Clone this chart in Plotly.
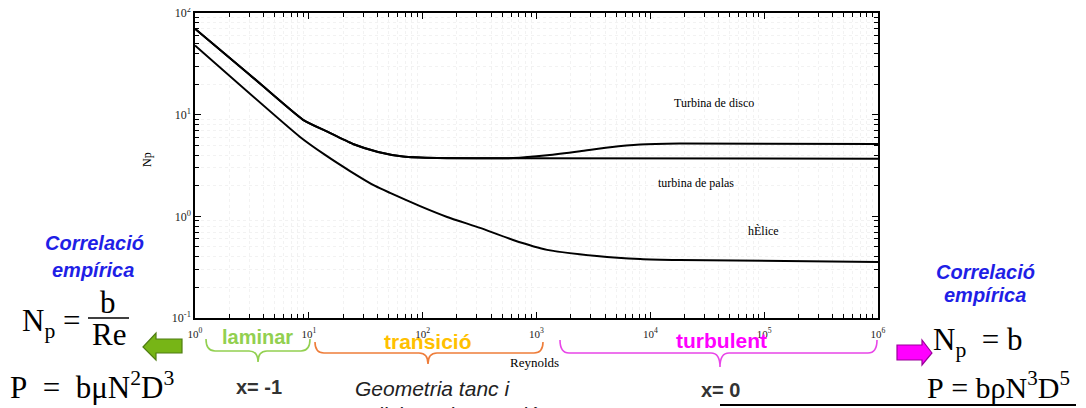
import plotly.graph_objects as go

# ---- data ----
re_disco = [1, 3.04, 8.9, 14.7, 24.4, 40.6, 67.3, 134, 623, 1240, 2416, 4436, 8130, 18000, 1e6]
np_disco = [70, 24.6, 8.9, 6.76, 5.15, 4.30, 3.88, 3.75, 3.74, 3.98, 4.36, 4.79, 5.09, 5.2, 5.15]

re_palas = [1, 3.04, 8.9, 14.7, 24.4, 40.6, 67.3, 134, 623, 1e6]
np_palas = [70, 24.6, 8.9, 6.76, 5.15, 4.30, 3.88, 3.75, 3.73, 3.68]

re_helice = [1, 8.37, 13.9, 23.0, 38.2, 51.7, 94.9, 164, 319, 623, 1240, 3390, 8130, 18000, 1e6]
np_helice = [48, 6.04, 4.02, 2.79, 1.99, 1.70, 1.26, 0.986, 0.769, 0.586, 0.468, 0.408, 0.381, 0.372, 0.356]

x_tickvals = [1, 10, 100, 1000, 1e4, 1e5, 1e6]
x_ticktext = ["10<sup>0</sup>", "10<sup>1</sup>", "10<sup>2</sup>", "10<sup>3</sup>",
              "10<sup>4</sup>", "10<sup>5</sup>", "10<sup>6</sup>"]
y_tickvals = [0.1, 1, 10, 100]
y_ticktext = ["10<sup>-1</sup>", "10<sup>0</sup>", "10<sup>1</sup>", "10<sup>2</sup>"]

# ---- layout geometry (reference pixels; page body has an 8px margin) ----
OFF = 8
W, H = 1086, 408
L, R, T, B = 195, 878, 13, 318


def PX(x):
    return (x - L) / (R - L)


def PY(y):
    return (B - y) / (B - T)


SERIF = "Liberation Serif, Times New Roman, serif"
SANS = "Liberation Sans, Arial, sans-serif"

fig = go.Figure()
for xs, ys in [(re_disco, np_disco), (re_palas, np_palas), (re_helice, np_helice)]:
    fig.add_trace(go.Scatter(x=xs, y=ys, mode="lines",
                             line=dict(color="black", width=2, shape="spline", smoothing=0.5),
                             showlegend=False, hoverinfo="skip"))

x_minor = [m * 10 ** d for d in range(0, 6) for m in range(2, 10)]
y_minor = [m * 10 ** d for d in range(-1, 2) for m in range(2, 10)]

axis_common = dict(type="log", showline=True, linecolor="black", linewidth=1.5,
                   mirror="ticks", ticks="inside", ticklen=6, tickwidth=1.2, tickcolor="black",
                   showgrid=False, zeroline=False, ticklabeloverflow="allow")

fig.update_xaxes(range=[0, 6], tickvals=x_tickvals, ticktext=x_ticktext,
                 ticklabelstandoff=5, tickfont=dict(family=SERIF, size=11, color="#222"),
                 minor=dict(tickvals=x_minor, ticks="inside", ticklen=4, tickcolor="black",
                            showgrid=True, gridcolor="#f2f2f2", griddash="dot"),
                 **axis_common)
fig.update_yaxes(range=[-1, 2], tickvals=y_tickvals, ticktext=y_ticktext,
                 tickfont=dict(family=SERIF, size=12, color="#222"),
                 minor=dict(tickvals=y_minor, ticks="inside", ticklen=4, tickcolor="black",
                            showgrid=True, gridcolor="#f2f2f2", griddash="dot"),
                 **axis_common)

ann = []


def text(x, y, s, size, color="black", family=SERIF, xanchor="center", angle=0):
    ann.append(dict(x=PX(x), y=PY(y), xref="paper", yref="paper", text=s, showarrow=False,
                    xanchor=xanchor, yanchor="middle", textangle=angle,
                    font=dict(family=family, size=size, color=color)))


# chart texts
text(714, 103, "Turbina de disco", 12)
text(696, 183, "turbina de palas", 12)
text(763, 231, "hÈlice", 12)
text(534, 362, "Reynolds", 13)
text(147, 160, "Np", 12, angle=-90)

# region labels
text(257, 337, "<b>laminar</b>", 20, "#92d050", SANS)
text(428, 341, "<b>transició</b>", 21, "#ffc000", SANS)
text(721, 340, "<b>turbulent</b>", 21, "#ff00ff", SANS)
text(259, 387, "<b>x= -1</b>", 20, "#333333", SANS)
text(720, 390, "<b>x= 0</b>", 20, "#333333", SANS)
text(432, 388, "<i>Geometria tanc i</i>", 21, "#222222", SANS)
text(438, 414, "<i>condicions d'operació</i>", 21, "#222222", SANS)

# left correlation
text(94, 243, "<b><i>Correlació</i></b>", 20, "#1f1fe6", SANS)
text(93, 270, "<b><i>empírica</i></b>", 20, "#1f1fe6", SANS)
text(20, 323, "N<sub>p</sub>\u00a0=", 31, xanchor="left")
text(108, 302, "b", 31)
text(109, 334, "Re", 31)
text(8, 385, "P\u00a0\u00a0=\u00a0\u00a0bμN<sup>2</sup>D<sup>3</sup>", 31, xanchor="left")

# right correlation
text(985, 272, "<b><i>Correlació</i></b>", 20, "#1f1fe6", SANS)
text(985, 295, "<b><i>empírica</i></b>", 20, "#1f1fe6", SANS)
text(931, 342, "N<sub>p</sub>\u00a0\u00a0=\u00a0b", 31, xanchor="left")
text(925, 385, "P\u00a0=\u00a0bρN<sup>3</sup>D<sup>5</sup>", 30, xanchor="left")

shapes = []


def brace(x0, x1, xc, ytop, ymid, ybot, color, r=9):
    p = (f"M {PX(x0)},{PY(ytop)} Q {PX(x0)},{PY(ymid)} {PX(x0 + r)},{PY(ymid)} "
         f"L {PX(xc - r)},{PY(ymid)} Q {PX(xc)},{PY(ymid)} {PX(xc)},{PY(ybot)} "
         f"Q {PX(xc)},{PY(ymid)} {PX(xc + r)},{PY(ymid)} "
         f"L {PX(x1 - r)},{PY(ymid)} Q {PX(x1)},{PY(ymid)} {PX(x1)},{PY(ytop)}")
    shapes.append(dict(type="path", path=p, xref="paper", yref="paper",
                       line=dict(color=color, width=1.6)))


brace(206, 310, 258, 339, 351, 362, "#92d050")
brace(315, 543, 428, 342, 353, 364, "#ee7d3a")
brace(560, 877, 720, 340, 353, 367, "#e845e8")


def poly(pts, fill, outline):
    p = "M " + " L ".join(f"{PX(a)},{PY(b)}" for a, b in pts) + " Z"
    shapes.append(dict(type="path", path=p, xref="paper", yref="paper",
                       fillcolor=fill, line=dict(color=outline, width=1.2)))


# green arrow pointing left
poly([(143, 347), (156, 333), (156, 339), (182, 339), (182, 353), (156, 353), (156, 360)],
     "#77b516", "#4f7d12")
# magenta arrow pointing right
poly([(932, 353), (922, 340), (922, 345), (897, 345), (897, 360), (922, 360), (922, 365)],
     "#ff00ff", "#9a009a")

# fraction bar
shapes.append(dict(type="line", xref="paper", yref="paper", x0=PX(88), x1=PX(129),
                   y0=PY(318), y1=PY(318), line=dict(color="black", width=1.5)))
# bottom-right rule
shapes.append(dict(type="line", xref="paper", yref="paper", x0=PX(720), x1=PX(1076),
                   y0=PY(405), y1=PY(405), line=dict(color="black", width=2)))

fig.update_layout(width=W - OFF, height=H - OFF,
                  margin=dict(l=L - OFF, r=W - R, t=T - OFF, b=H - B, autoexpand=False),
                  paper_bgcolor="white", plot_bgcolor="white",
                  annotations=ann, shapes=shapes, showlegend=False)

fig.write_html("out.html")
